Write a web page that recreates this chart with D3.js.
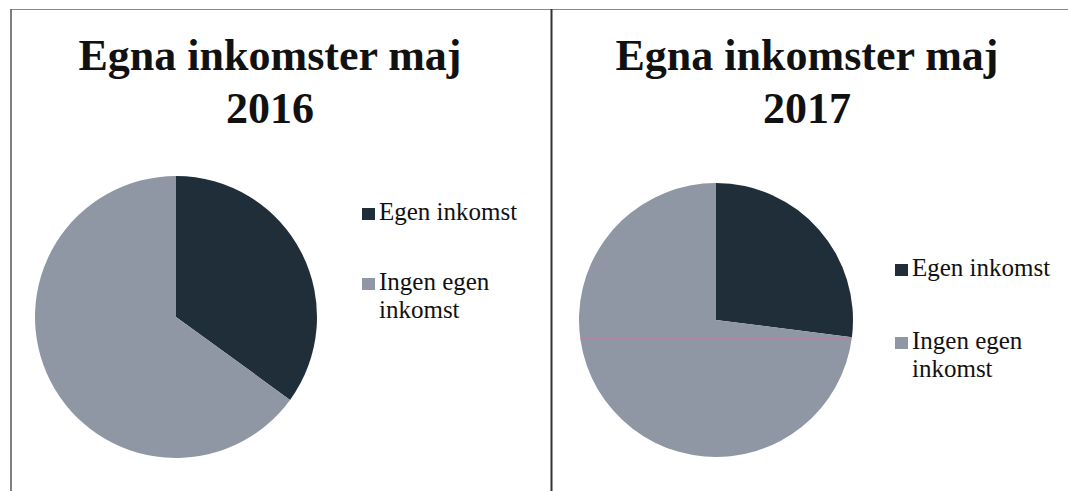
<!DOCTYPE html>
<html>
<head>
<meta charset="utf-8">
<script src="https://cdn.jsdelivr.net/npm/d3@7"></script>
<style>
  body { margin: 0; background: #fff; }
  svg { display: block; }
</style>
</head>
<body>
<svg id="plot"></svg>
<script>
const width = 1068;
const height = 491;

// data
const categories = ['Egen inkomst', 'Ingen egen inkomst'];
const legendLines = [['Egen inkomst'], ['Ingen egen', 'inkomst']];
const titles2016 = ['Egna inkomster maj', '2016'];
const titles2017 = ['Egna inkomster maj', '2017'];
const values2016 = [35, 65];
const values2017 = [27, 73];
const colors = ['#1f2e38', '#8f96a4'];

const panels = [
  {title: titles2016, values: values2016, cx: 176, cy: 317, r: 141,
   titleX: 270, legendX: 362, legendY: 208, legendGap: 70, scanLine: false},
  {title: titles2017, values: values2017, cx: 716, cy: 320, r: 137,
   titleX: 807, legendX: 895, legendY: 264, legendGap: 73, scanLine: true}
];

function main(){
  const svg = d3.select('svg#plot')
    .attr('width', width)
    .attr('height', height);

  // frame of the two chart boxes
  svg.append('line')
    .attr('x1', 11).attr('x2', width).attr('y1', 9.5).attr('y2', 9.5)
    .attr('stroke', '#888').attr('stroke-width', 1.2);
  svg.append('line')
    .attr('x1', 11).attr('x2', 11).attr('y1', 9).attr('y2', height)
    .attr('stroke', '#555').attr('stroke-width', 1.5);
  svg.append('line')
    .attr('x1', 551.5).attr('x2', 551.5).attr('y1', 9).attr('y2', height)
    .attr('stroke', '#333').attr('stroke-width', 2);

  const color = d3.scaleOrdinal().domain(categories).range(colors);
  const pie = d3.pie().sort(null).value(d => d.value);

  panels.forEach(p => {
    const g = svg.append('g');

    g.selectAll('.title')
      .data(p.title)
      .enter()
      .append('text')
      .attr('class', 'title')
      .attr('x', p.titleX)
      .attr('y', (d, i) => 70 + i * 53)
      .attr('text-anchor', 'middle')
      .attr('font-family', '"Liberation Serif", "Times New Roman", serif')
      .attr('font-weight', 'bold')
      .attr('font-size', 44)
      .attr('fill', '#111')
      .text(d => d);

    const arc = d3.arc().innerRadius(0).outerRadius(p.r);
    const data = categories.map((c, i) => ({name: c, value: p.values[i]}));

    const pg = g.append('g')
      .attr('transform', `translate(${p.cx},${p.cy})`);
    pg.selectAll('path')
      .data(pie(data))
      .enter()
      .append('path')
      .attr('d', arc)
      .attr('fill', d => color(d.data.name));

    // faint pink scanner streak seen across the 2017 pie
    if (p.scanLine){
      const dy = 18;
      const dx = Math.sqrt(p.r * p.r - dy * dy);
      pg.append('line')
        .attr('x1', -dx).attr('x2', dx).attr('y1', dy).attr('y2', dy)
        .attr('stroke', '#e0709a').attr('stroke-width', 1).attr('opacity', 0.8);
    }

    const leg = g.selectAll('.leg')
      .data(categories)
      .enter()
      .append('g')
      .attr('class', 'leg')
      .attr('transform', (d, i) => `translate(${p.legendX},${p.legendY + i * p.legendGap})`);

    leg.append('rect')
      .attr('width', 13).attr('height', 12)
      .attr('fill', d => color(d));

    leg.append('text')
      .attr('x', 17)
      .attr('y', 12)
      .attr('font-family', '"Liberation Serif", "Times New Roman", serif')
      .attr('font-size', 25)
      .attr('fill', '#111')
      .selectAll('tspan')
      .data((d, i) => legendLines[i])
      .enter()
      .append('tspan')
      .attr('x', 17)
      .attr('dy', (d, i) => i === 0 ? 0 : 28)
      .text(d => d);
  });
}

document.addEventListener('DOMContentLoaded', main);
</script>
</body>
</html>
